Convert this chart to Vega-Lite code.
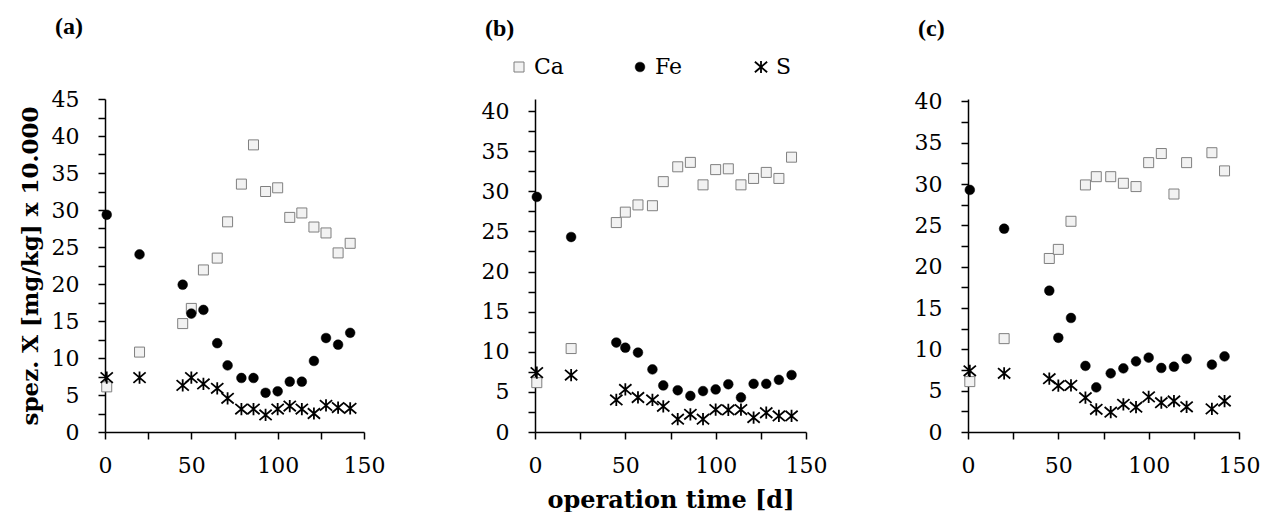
{
  "$schema": "https://vega.github.io/schema/vega-lite/v6.json",
  "background": "white",
  "padding": {"left": 19, "top": 15, "right": 5, "bottom": 0},
  "datasets": {
    "pts": [
      {"p":"a","d":1,"el":"Ca","v":6.1},{"p":"a","d":20,"el":"Ca","v":10.8},{"p":"a","d":45,"el":"Ca","v":14.65},{"p":"a","d":50,"el":"Ca","v":16.7},{"p":"a","d":57,"el":"Ca","v":21.9},{"p":"a","d":65,"el":"Ca","v":23.5},{"p":"a","d":71,"el":"Ca","v":28.4},{"p":"a","d":79,"el":"Ca","v":33.5},{"p":"a","d":86,"el":"Ca","v":38.8},{"p":"a","d":93,"el":"Ca","v":32.5},{"p":"a","d":100,"el":"Ca","v":33.0},{"p":"a","d":107,"el":"Ca","v":29.0},{"p":"a","d":114,"el":"Ca","v":29.6},{"p":"a","d":121,"el":"Ca","v":27.7},{"p":"a","d":128,"el":"Ca","v":26.9},{"p":"a","d":135,"el":"Ca","v":24.2},{"p":"a","d":142,"el":"Ca","v":25.5},
      {"p":"a","d":1,"el":"Fe","v":29.35},{"p":"a","d":20,"el":"Fe","v":24.0},{"p":"a","d":45,"el":"Fe","v":19.9},{"p":"a","d":50,"el":"Fe","v":16.0},{"p":"a","d":57,"el":"Fe","v":16.5},{"p":"a","d":65,"el":"Fe","v":12.0},{"p":"a","d":71,"el":"Fe","v":9.0},{"p":"a","d":79,"el":"Fe","v":7.3},{"p":"a","d":86,"el":"Fe","v":7.3},{"p":"a","d":93,"el":"Fe","v":5.3},{"p":"a","d":100,"el":"Fe","v":5.5},{"p":"a","d":107,"el":"Fe","v":6.8},{"p":"a","d":114,"el":"Fe","v":6.8},{"p":"a","d":121,"el":"Fe","v":9.6},{"p":"a","d":128,"el":"Fe","v":12.7},{"p":"a","d":135,"el":"Fe","v":11.8},{"p":"a","d":142,"el":"Fe","v":13.4},
      {"p":"a","d":1,"el":"S","v":7.35},{"p":"a","d":20,"el":"S","v":7.35},{"p":"a","d":45,"el":"S","v":6.3},{"p":"a","d":50,"el":"S","v":7.35},{"p":"a","d":57,"el":"S","v":6.5},{"p":"a","d":65,"el":"S","v":5.9},{"p":"a","d":71,"el":"S","v":4.55},{"p":"a","d":79,"el":"S","v":3.1},{"p":"a","d":86,"el":"S","v":3.1},{"p":"a","d":93,"el":"S","v":2.3},{"p":"a","d":100,"el":"S","v":3.1},{"p":"a","d":107,"el":"S","v":3.5},{"p":"a","d":114,"el":"S","v":3.1},{"p":"a","d":121,"el":"S","v":2.5},{"p":"a","d":128,"el":"S","v":3.6},{"p":"a","d":135,"el":"S","v":3.3},{"p":"a","d":142,"el":"S","v":3.2},
      {"p":"b","d":1,"el":"Ca","v":6.15},{"p":"b","d":20,"el":"Ca","v":10.4},{"p":"b","d":45,"el":"Ca","v":26.1},{"p":"b","d":50,"el":"Ca","v":27.4},{"p":"b","d":57,"el":"Ca","v":28.3},{"p":"b","d":65,"el":"Ca","v":28.2},{"p":"b","d":71,"el":"Ca","v":31.2},{"p":"b","d":79,"el":"Ca","v":33.05},{"p":"b","d":86,"el":"Ca","v":33.6},{"p":"b","d":93,"el":"Ca","v":30.8},{"p":"b","d":100,"el":"Ca","v":32.7},{"p":"b","d":107,"el":"Ca","v":32.8},{"p":"b","d":114,"el":"Ca","v":30.8},{"p":"b","d":121,"el":"Ca","v":31.6},{"p":"b","d":128,"el":"Ca","v":32.35},{"p":"b","d":135,"el":"Ca","v":31.6},{"p":"b","d":142,"el":"Ca","v":34.25},
      {"p":"b","d":1,"el":"Fe","v":29.3},{"p":"b","d":20,"el":"Fe","v":24.3},{"p":"b","d":45,"el":"Fe","v":11.15},{"p":"b","d":50,"el":"Fe","v":10.5},{"p":"b","d":57,"el":"Fe","v":9.9},{"p":"b","d":65,"el":"Fe","v":7.8},{"p":"b","d":71,"el":"Fe","v":5.8},{"p":"b","d":79,"el":"Fe","v":5.2},{"p":"b","d":86,"el":"Fe","v":4.5},{"p":"b","d":93,"el":"Fe","v":5.1},{"p":"b","d":100,"el":"Fe","v":5.3},{"p":"b","d":107,"el":"Fe","v":5.95},{"p":"b","d":114,"el":"Fe","v":4.3},{"p":"b","d":121,"el":"Fe","v":6.0},{"p":"b","d":128,"el":"Fe","v":6.0},{"p":"b","d":135,"el":"Fe","v":6.5},{"p":"b","d":142,"el":"Fe","v":7.1},
      {"p":"b","d":1,"el":"S","v":7.4},{"p":"b","d":20,"el":"S","v":7.1},{"p":"b","d":45,"el":"S","v":4.0},{"p":"b","d":50,"el":"S","v":5.3},{"p":"b","d":57,"el":"S","v":4.3},{"p":"b","d":65,"el":"S","v":4.0},{"p":"b","d":71,"el":"S","v":3.2},{"p":"b","d":79,"el":"S","v":1.6},{"p":"b","d":86,"el":"S","v":2.2},{"p":"b","d":93,"el":"S","v":1.6},{"p":"b","d":100,"el":"S","v":2.8},{"p":"b","d":107,"el":"S","v":2.75},{"p":"b","d":114,"el":"S","v":2.8},{"p":"b","d":121,"el":"S","v":1.8},{"p":"b","d":128,"el":"S","v":2.4},{"p":"b","d":135,"el":"S","v":2.0},{"p":"b","d":142,"el":"S","v":2.0},
      {"p":"c","d":1,"el":"Ca","v":6.1},{"p":"c","d":20,"el":"Ca","v":11.3},{"p":"c","d":45,"el":"Ca","v":21.0},{"p":"c","d":50,"el":"Ca","v":22.1},{"p":"c","d":57,"el":"Ca","v":25.5},{"p":"c","d":65,"el":"Ca","v":29.9},{"p":"c","d":71,"el":"Ca","v":30.9},{"p":"c","d":79,"el":"Ca","v":30.9},{"p":"c","d":86,"el":"Ca","v":30.1},{"p":"c","d":93,"el":"Ca","v":29.7},{"p":"c","d":100,"el":"Ca","v":32.6},{"p":"c","d":107,"el":"Ca","v":33.7},{"p":"c","d":114,"el":"Ca","v":28.8},{"p":"c","d":121,"el":"Ca","v":32.6},{"p":"c","d":135,"el":"Ca","v":33.8},{"p":"c","d":142,"el":"Ca","v":31.6},
      {"p":"c","d":1,"el":"Fe","v":29.3},{"p":"c","d":20,"el":"Fe","v":24.6},{"p":"c","d":45,"el":"Fe","v":17.1},{"p":"c","d":50,"el":"Fe","v":11.4},{"p":"c","d":57,"el":"Fe","v":13.8},{"p":"c","d":65,"el":"Fe","v":8.0},{"p":"c","d":71,"el":"Fe","v":5.4},{"p":"c","d":79,"el":"Fe","v":7.1},{"p":"c","d":86,"el":"Fe","v":7.7},{"p":"c","d":93,"el":"Fe","v":8.55},{"p":"c","d":100,"el":"Fe","v":9.0},{"p":"c","d":107,"el":"Fe","v":7.75},{"p":"c","d":114,"el":"Fe","v":7.9},{"p":"c","d":121,"el":"Fe","v":8.85},{"p":"c","d":135,"el":"Fe","v":8.15},{"p":"c","d":142,"el":"Fe","v":9.15},
      {"p":"c","d":1,"el":"S","v":7.4},{"p":"c","d":20,"el":"S","v":7.1},{"p":"c","d":45,"el":"S","v":6.45},{"p":"c","d":50,"el":"S","v":5.6},{"p":"c","d":57,"el":"S","v":5.65},{"p":"c","d":65,"el":"S","v":4.15},{"p":"c","d":71,"el":"S","v":2.75},{"p":"c","d":79,"el":"S","v":2.4},{"p":"c","d":86,"el":"S","v":3.35},{"p":"c","d":93,"el":"S","v":3.0},{"p":"c","d":100,"el":"S","v":4.25},{"p":"c","d":107,"el":"S","v":3.55},{"p":"c","d":114,"el":"S","v":3.75},{"p":"c","d":121,"el":"S","v":3.05},{"p":"c","d":135,"el":"S","v":2.8},{"p":"c","d":142,"el":"S","v":3.75}
    ]
  },
  "spacing": 96,
  "resolve": {"scale": {"shape": "independent", "fill": "independent", "stroke": "independent", "size": "independent", "strokeWidth": "independent"}},
  "hconcat": [
    {
      "name": "pa",
      "width": 259, "height": 333,
      "title": {"text": "(a)", "offset": 49},
      "data": {"name": "pts"},
      "transform": [{"filter": "datum.p === 'a'"}],
      "mark": {"type": "point", "opacity": 1},
      "encoding": {
        "x": {"field": "d", "type": "quantitative", "scale": {"domain": [0, 150], "nice": false},
          "axis": {"values": [0, 25, 50, 75, 100, 125, 150], "labelExpr": "datum.value % 50 === 0 ? datum.label : ''", "title": null,
            "encode": {"ticks": {"update": {"y": {"signal": "datum.value % 50 === 0 ? -4 : 0"}}}}}},
        "y": {"field": "v", "type": "quantitative", "scale": {"domain": [0, 45], "nice": false},
          "axis": {"values": [0, 2.5, 5, 7.5, 10, 12.5, 15, 17.5, 20, 22.5, 25, 27.5, 30, 32.5, 35, 37.5, 40, 42.5, 45], "labelExpr": "datum.value % 5 === 0 ? datum.label : ''", "title": "spez. X [mg/kg] x 10.000",
            "encode": {"ticks": {"update": {"x": {"signal": "datum.value % 5 === 0 ? 7 : 0"}}}}}},
        "shape": {"field": "el", "type": "nominal", "scale": {"domain": ["Ca", "Fe", "S"], "range": ["square", "circle", "M-1,-0.85L1,0.85M-1,0.85L1,-0.85M0,-1L0,1"]}, "legend": null},
        "fill": {"field": "el", "type": "nominal", "scale": {"domain": ["Ca", "Fe", "S"], "range": ["#f2f2f2", "#000000", "transparent"]}, "legend": null},
        "stroke": {"field": "el", "type": "nominal", "scale": {"domain": ["Ca", "Fe", "S"], "range": ["#7f7f7f", "#000000", "#000000"]}, "legend": null},
        "size": {"field": "el", "type": "nominal", "scale": {"type": "ordinal", "domain": ["Ca", "Fe", "S"], "range": [100, 95, 150]}, "legend": null},
        "strokeWidth": {"field": "el", "type": "nominal", "scale": {"type": "ordinal", "domain": ["Ca", "Fe", "S"], "range": [1, 0.5, 1.8]}, "legend": null}
      }
    },
    {
      "spacing": 87,
      "resolve": {"scale": {"shape": "independent", "fill": "independent", "stroke": "independent", "size": "independent", "strokeWidth": "independent"}},
      "hconcat": [
        {
          "name": "pb",
          "width": 271, "height": 333,
          "title": {"text": "(b)", "offset": 15},
          "data": {"name": "pts"},
          "transform": [{"filter": "datum.p === 'b'"}],
          "mark": {"type": "point", "opacity": 1},
          "encoding": {
            "x": {"field": "d", "type": "quantitative", "scale": {"domain": [0, 150], "nice": false},
              "axis": {"values": [0, 25, 50, 75, 100, 125, 150], "labelExpr": "datum.value % 50 === 0 ? datum.label : ''", "title": "operation time [d]",
                "encode": {"ticks": {"update": {"y": {"signal": "datum.value % 50 === 0 ? -4 : 0"}}}}}},
            "y": {"field": "v", "type": "quantitative", "scale": {"domain": [0, 41.5], "nice": false},
              "axis": {"values": [0, 2.5, 5, 7.5, 10, 12.5, 15, 17.5, 20, 22.5, 25, 27.5, 30, 32.5, 35, 37.5, 40], "labelExpr": "datum.value % 5 === 0 ? datum.label : ''", "title": null,
                "encode": {"ticks": {"update": {"x": {"signal": "datum.value % 5 === 0 ? 7 : 0"}}}, "domain": {"update": {"y2": {"scale": "pb_y", "value": 40}}}}}},
            "shape": {"field": "el", "type": "nominal", "title": null, "scale": {"domain": ["Ca", "Fe", "S"], "range": ["square", "circle", "M-1,-0.85L1,0.85M-1,0.85L1,-0.85M0,-1L0,1"]},
              "legend": {"orient": "none", "legendX": -27, "legendY": -43, "direction": "horizontal", "gridAlign": "all", "columnPadding": 65, "labelOffset": 4, "labelFont": "DejaVu Serif", "labelFontSize": 22, "labelColor": "black"}},
            "fill": {"field": "el", "type": "nominal", "title": null, "scale": {"domain": ["Ca", "Fe", "S"], "range": ["#f2f2f2", "#000000", "transparent"]},
              "legend": {"orient": "none", "legendX": -27, "legendY": -43, "direction": "horizontal", "gridAlign": "all", "columnPadding": 65, "labelOffset": 4, "labelFont": "DejaVu Serif", "labelFontSize": 22, "labelColor": "black"}},
            "stroke": {"field": "el", "type": "nominal", "title": null, "scale": {"domain": ["Ca", "Fe", "S"], "range": ["#7f7f7f", "#000000", "#000000"]},
              "legend": {"orient": "none", "legendX": -27, "legendY": -43, "direction": "horizontal", "gridAlign": "all", "columnPadding": 65, "labelOffset": 4, "labelFont": "DejaVu Serif", "labelFontSize": 22, "labelColor": "black"}},
            "size": {"field": "el", "type": "nominal", "title": null, "scale": {"type": "ordinal", "domain": ["Ca", "Fe", "S"], "range": [100, 95, 150]},
              "legend": {"orient": "none", "legendX": -27, "legendY": -43, "direction": "horizontal", "gridAlign": "all", "columnPadding": 65, "labelOffset": 4, "labelFont": "DejaVu Serif", "labelFontSize": 22, "labelColor": "black"}},
            "strokeWidth": {"field": "el", "type": "nominal", "title": null, "scale": {"type": "ordinal", "domain": ["Ca", "Fe", "S"], "range": [1, 0.5, 1.8]},
              "legend": {"orient": "none", "legendX": -27, "legendY": -43, "direction": "horizontal", "gridAlign": "all", "columnPadding": 65, "labelOffset": 4, "labelFont": "DejaVu Serif", "labelFontSize": 22, "labelColor": "black"}}
          }
        },
        {
          "name": "pc",
          "width": 271, "height": 333,
          "title": {"text": "(c)", "offset": 49},
          "data": {"name": "pts"},
          "transform": [{"filter": "datum.p === 'c'"}],
          "mark": {"type": "point", "opacity": 1},
          "encoding": {
            "x": {"field": "d", "type": "quantitative", "scale": {"domain": [0, 150], "nice": false},
              "axis": {"values": [0, 25, 50, 75, 100, 125, 150], "labelExpr": "datum.value % 50 === 0 ? datum.label : ''", "title": null,
                "encode": {"ticks": {"update": {"y": {"signal": "datum.value % 50 === 0 ? -4 : 0"}}}}}},
            "y": {"field": "v", "type": "quantitative", "scale": {"domain": [0, 40.3], "nice": false},
              "axis": {"values": [0, 2.5, 5, 7.5, 10, 12.5, 15, 17.5, 20, 22.5, 25, 27.5, 30, 32.5, 35, 37.5, 40], "labelExpr": "datum.value % 5 === 0 ? datum.label : ''", "title": null,
                "encode": {"ticks": {"update": {"x": {"signal": "datum.value % 5 === 0 ? 7 : 0"}}}, "domain": {"update": {"y2": {"scale": "pc_y", "value": 40}}}}}},
            "shape": {"field": "el", "type": "nominal", "scale": {"domain": ["Ca", "Fe", "S"], "range": ["square", "circle", "M-1,-0.85L1,0.85M-1,0.85L1,-0.85M0,-1L0,1"]}, "legend": null},
            "fill": {"field": "el", "type": "nominal", "scale": {"domain": ["Ca", "Fe", "S"], "range": ["#f2f2f2", "#000000", "transparent"]}, "legend": null},
            "stroke": {"field": "el", "type": "nominal", "scale": {"domain": ["Ca", "Fe", "S"], "range": ["#7f7f7f", "#000000", "#000000"]}, "legend": null},
            "size": {"field": "el", "type": "nominal", "scale": {"type": "ordinal", "domain": ["Ca", "Fe", "S"], "range": [100, 95, 150]}, "legend": null},
            "strokeWidth": {"field": "el", "type": "nominal", "scale": {"type": "ordinal", "domain": ["Ca", "Fe", "S"], "range": [1, 0.5, 1.8]}, "legend": null}
          }
        }
      ]
    }
  ],
  "config": {
    "view": {"stroke": null},
    "font": "DejaVu Serif",
    "axis": {"labelFont": "DejaVu Serif", "labelFontSize": 22, "labelColor": "black", "domainColor": "black", "tickColor": "black", "domainWidth": 1.5, "tickWidth": 1.5, "tickSize": 7, "grid": false, "titleFont": "DejaVu Serif", "titleFontWeight": "bold", "titleColor": "black", "labelOverlap": false},
    "axisX": {"labelPadding": 16, "labelFlush": false, "titleFontSize": 24, "titlePadding": 12},
    "axisY": {"labelPadding": 19, "titleFontSize": 23, "titlePadding": 9},
    "title": {"font": "Liberation Serif", "fontSize": 24, "fontWeight": "bold", "color": "black", "anchor": "start", "frame": "group", "dx": -50}
  }
}
